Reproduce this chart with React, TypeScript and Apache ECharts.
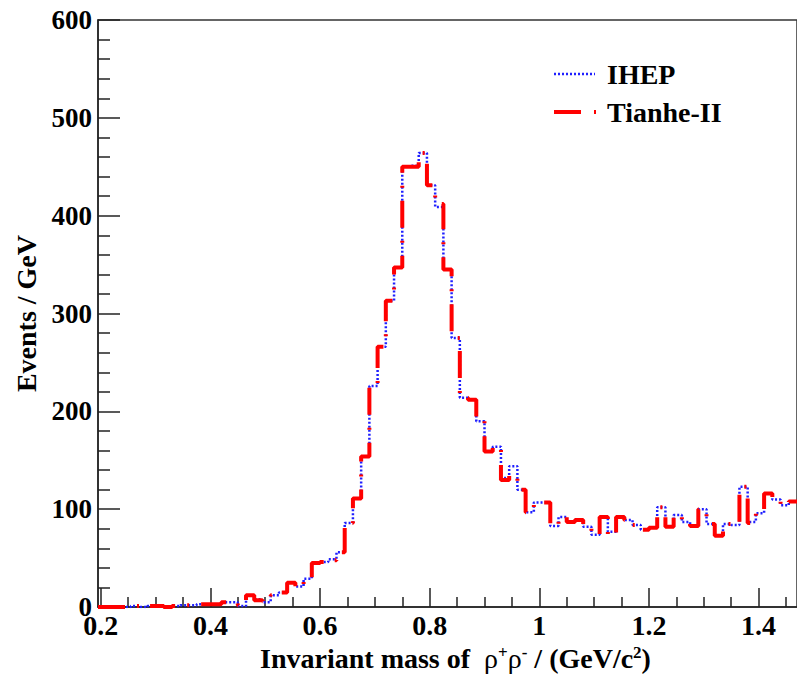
import React, { useEffect, useRef } from 'react';
import * as echarts from 'echarts';

// Histogram binning (GeV/c^2)
const binStart = 0.195;
const binWidth = 0.015;

// Axis ticks
const xTickValues = [0.2, 0.4, 0.6, 0.8, 1.0, 1.2, 1.4];
const xMinorTickValues = [
  0.25, 0.3, 0.35, 0.45, 0.5, 0.55, 0.65, 0.7, 0.75, 0.85, 0.9, 0.95,
  1.05, 1.1, 1.15, 1.25, 1.3, 1.35, 1.45,
];

// Series names
const seriesNames = ['IHEP', 'Tianhe-II'];

// Events / GeV per bin
const ihepCounts = [
  0, 0, 0, 0, 1, 0, 1, 1, 0, 1,
  2, 2, 3, 3, 3, 5, 5, 1, 12, 8,
  5, 12, 15, 25, 21, 29, 45, 46, 49, 56,
  86, 111, 154, 226, 266, 313, 347, 450, 451, 464,
  431, 409, 345, 275, 214, 212, 190, 159, 164, 132,
  144, 120, 97, 107, 107, 83, 92, 87, 89, 82,
  74, 92, 77, 92, 89, 84, 79, 81, 102, 82,
  94, 87, 83, 100, 85, 73, 85, 84, 123, 87,
  96, 116, 110, 104, 108,
];

const tianheCounts = [
  0, 0, 0, 0, 1, 0, 1, 1, 0, 1,
  2, 2, 3, 3, 3, 5, 4, 2, 12, 7,
  6, 12, 15, 25, 20, 29, 45, 46, 48, 56,
  86, 111, 154, 226, 266, 313, 347, 450, 450, 464,
  431, 412, 345, 275, 214, 212, 190, 159, 164, 130,
  135, 120, 97, 107, 107, 83, 92, 87, 89, 82,
  74, 92, 73, 92, 89, 84, 79, 81, 102, 82,
  94, 87, 83, 100, 85, 73, 85, 84, 123, 86,
  96, 116, 110, 104, 108,
];

function toSteps(counts: number[]): [number, number][] {
  const pts: [number, number][] = counts.map((v, k) => [binStart + k * binWidth, v]);
  pts.push([binStart + counts.length * binWidth, counts[counts.length - 1]]);
  return pts;
}

const FONT = '"Liberation Serif", "Times New Roman", serif';
const AXIS_COLOR = '#222';

export default function App() {
  const ref = useRef<HTMLDivElement>(null);

  useEffect(() => {
    if (!ref.current) return;
    const chart = echarts.init(ref.current, undefined, { renderer: 'svg' });
    const xMax = binStart + ihepCounts.length * binWidth;

    chart.setOption({
      animation: false,
      backgroundColor: '#ffffff',
      grid: {
        left: 98,
        right: -2,
        top: 20,
        bottom: 65,
        show: true,
        borderColor: '#333',
        borderWidth: 1.5,
        backgroundColor: 'transparent',
      },
      xAxis: [
        {
          type: 'value',
          min: binStart,
          max: xMax,
          axisLine: { show: true, onZero: false, lineStyle: { color: AXIS_COLOR, width: 1.5 } },
          axisTick: {
            show: true,
            inside: true,
            length: 19,
            customValues: xTickValues,
            lineStyle: { color: AXIS_COLOR, width: 1.5 },
          },
          axisLabel: {
            customValues: xTickValues,
            fontFamily: FONT,
            fontWeight: 'bold',
            fontSize: 28,
            color: '#000',
            margin: 4,
          },
          splitLine: { show: false },
          name: 'Invariant mass of  {r|ρ}{s|+}{r|ρ}{s|-} / (GeV/c{s|2})',
          nameLocation: 'middle',
          nameGap: 32,
          nameTextStyle: {
            fontFamily: FONT,
            fontWeight: 'bold',
            fontSize: 28,
            color: '#000',
            padding: [0, 0, 0, 16],
            rich: {
              r: { fontFamily: FONT, fontWeight: 'normal', fontSize: 28, color: '#000' },
              s: { fontFamily: FONT, fontWeight: 'bold', fontSize: 17, color: '#000', verticalAlign: 'top' },
            },
          },
        },
        {
          type: 'value',
          min: binStart,
          max: xMax,
          position: 'bottom',
          axisLine: { show: false },
          axisTick: {
            show: true,
            inside: true,
            length: 10,
            customValues: xMinorTickValues,
            lineStyle: { color: AXIS_COLOR, width: 1.5 },
          },
          axisLabel: { show: false },
          splitLine: { show: false },
        },
      ],
      yAxis: {
        type: 'value',
        min: 0,
        max: 600,
        interval: 100,
        axisLine: { show: true, lineStyle: { color: AXIS_COLOR, width: 1.5 } },
        axisTick: { show: true, inside: true, length: 22, lineStyle: { color: AXIS_COLOR, width: 1.5 } },
        minorTick: { show: true, splitNumber: 5, length: 12, lineStyle: { color: AXIS_COLOR, width: 1.5 } },
        axisLabel: {
          fontFamily: FONT,
          fontWeight: 'bold',
          fontSize: 27,
          color: '#000',
          margin: 6,
        },
        splitLine: { show: false },
        minorSplitLine: { show: false },
        name: 'Events / GeV',
        nameLocation: 'middle',
        nameGap: 52,
        nameTextStyle: { fontFamily: FONT, fontWeight: 'bold', fontSize: 28, color: '#000' },
      },
      series: [
        {
          name: seriesNames[0],
          type: 'line',
          step: 'end',
          xAxisIndex: 0,
          data: toSteps(ihepCounts),
          symbol: 'none',
          clip: true,
          lineStyle: { color: '#1f1fff', width: 2.5, type: [2, 2], cap: 'butt' },
          z: 2,
        },
        {
          name: seriesNames[1],
          type: 'line',
          step: 'end',
          xAxisIndex: 0,
          data: toSteps(tianheCounts),
          symbol: 'none',
          clip: true,
          lineStyle: { color: '#ff0000', width: 4, type: [27, 13, 2, 13], cap: 'butt' },
          z: 3,
        },
      ],
      graphic: [
        {
          type: 'line',
          shape: { x1: 554, y1: 74, x2: 595, y2: 74 },
          style: { stroke: '#1f1fff', lineWidth: 2.5, lineDash: [2, 2] },
        },
        {
          type: 'text',
          x: 607,
          y: 74,
          style: {
            text: seriesNames[0],
            fontFamily: FONT,
            fontWeight: 'bold',
            fontSize: 28,
            fill: '#000',
            verticalAlign: 'middle',
          },
        },
        {
          type: 'line',
          shape: { x1: 554, y1: 112, x2: 597, y2: 112 },
          style: { stroke: '#ff0000', lineWidth: 4, lineDash: [27, 13, 2, 13] },
        },
        {
          type: 'text',
          x: 607,
          y: 112,
          style: {
            text: seriesNames[1],
            fontFamily: FONT,
            fontWeight: 'bold',
            fontSize: 28,
            fill: '#000',
            verticalAlign: 'middle',
          },
        },
      ],
    });

    return () => {
      chart.dispose();
    };
  }, []);

  return (
    <div
      ref={ref}
      style={{ position: 'absolute', left: 0, top: 0, width: 797, height: 677, background: '#fff' }}
    />
  );
}
